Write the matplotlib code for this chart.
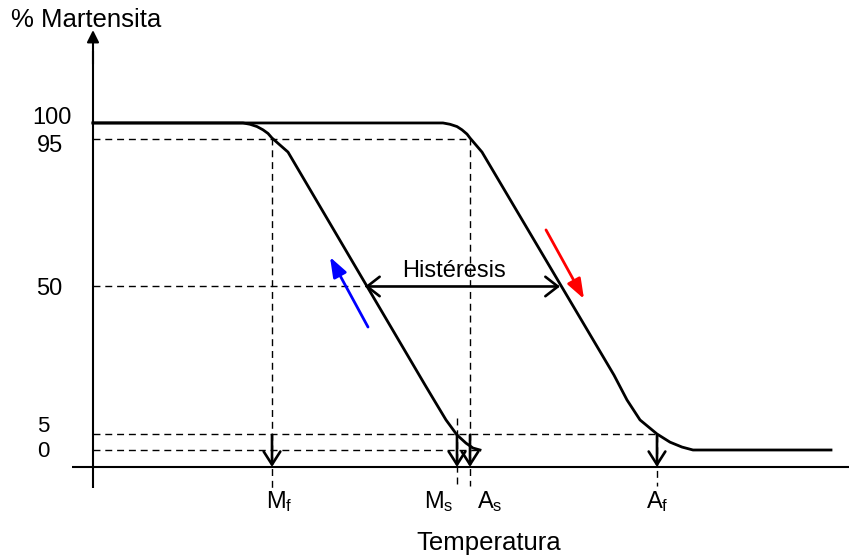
"""
Martensite fraction vs temperature: transformation hysteresis loop
with the Mf, Ms, As, Af transition temperatures marked.
"""

import matplotlib

matplotlib.use("Agg")
import matplotlib.pyplot as plt

plt.rcParams["font.family"] = ["Liberation Sans", "DejaVu Sans"]
plt.rcParams["mathtext.fontset"] = "custom"
plt.rcParams["mathtext.rm"] = "Liberation Sans"

# cooling curve (austenite -> martensite), temperature in arbitrary units
cool_T = [0, 150, 157, 164, 170, 175, 179, 195, 332, 341, 353, 364, 373, 380, 387]
cool_pct = [100, 100, 99.6, 98.9, 97.9, 96.8, 95.4, 91.1, 19.9, 15.3, 9.2, 4.6, 2.1, 0.6, 0]

# heating curve (martensite -> austenite)
heat_T = [0, 350, 357, 364, 369, 374, 377, 389, 521, 534, 547, 564, 577, 589, 600, 738]
heat_pct = [100, 100, 99.6, 98.9, 97.9, 96.6, 95.4, 91.1, 22.9, 15.3, 9.2, 4.9, 2.4, 0.9, 0, 0]

# transition temperatures
temp_names = ["M_f", "M_s", "A_s", "A_f"]
temp_vals = [179, 364, 377, 564]
temp_label_x = [186, 346, 397, 564]

# reference levels (% martensite) and where their dashed guide ends
levels = [95, 50, 5, 0]
level_ends = [377, 274, 564, 387]
tick_labels = ["100", "95", "50", "5", "0"]
tick_x = [-61, -56, -57, -56, -56]
tick_y = [101.6, 93.0, 49.2, 7.2, -0.5]
tick_fs = [17, 17, 17, 16, 16]

axis_y = -5.2
hyst_span = (274, 468)

fig = plt.figure(figsize=(8.49, 5.59), dpi=100)
ax = fig.add_axes([0, 0, 1, 1])
ax.set_xlim(-93, 756)
ax.set_ylim(-33.33, 137.6)
ax.axis("off")

fs = 17
dash = (0, (5, 3.5))

# axes with arrow heads
ax.plot([-21, 760], [axis_y, axis_y], color="black", lw=1.5, solid_capstyle="butt")
ax.annotate("", xy=(767, axis_y), xytext=(740, axis_y),
            arrowprops=dict(arrowstyle="-|>", color="black", lw=1.5,
                            mutation_scale=18, shrinkA=0, shrinkB=0))
ax.plot([0, 0], [-11.6, 122], color="black", lw=1.5, solid_capstyle="butt")
ax.annotate("", xy=(0, 128.4), xytext=(0, 118),
            arrowprops=dict(arrowstyle="-|>", color="black", lw=1.5,
                            mutation_scale=18, shrinkA=0, shrinkB=0))

# dashed guides
for lvl, end in zip(levels, level_ends):
    ax.plot([0, end], [lvl, lvl], color="black", lw=1, ls=dash)
ax.plot([temp_vals[0]] * 2, [95.4, -12.2], color="black", lw=1, ls=dash)
ax.plot([temp_vals[1]] * 2, [9.8, -11.0], color="black", lw=1, ls=dash)
ax.plot([temp_vals[2]] * 2, [95.4, -11.0], color="black", lw=1, ls=dash)
ax.plot([temp_vals[3]] * 2, [4.6, -11.0], color="black", lw=1, ls=dash)

# curves
ax.plot(heat_T, heat_pct, color="black", lw=2, solid_joinstyle="round")
ax.plot(cool_T, cool_pct, color="black", lw=2, solid_joinstyle="round")

# arrows down to the temperature axis
for t in temp_vals:
    ax.annotate("", xy=(t, axis_y), xytext=(t, 4.6),
                arrowprops=dict(arrowstyle="->,head_length=0.47,head_width=0.3",
                                color="black", lw=1.9, mutation_scale=20,
                                shrinkA=0, shrinkB=0))

for name, x in zip(temp_names, temp_label_x):
    ax.text(x, -15.8, f"$\\mathrm{{{name}}}$", fontsize=fs, ha="center", va="center")

# hysteresis width
ax.annotate("", xy=(hyst_span[0] - 2, 50), xytext=(hyst_span[1] - 1, 50),
            arrowprops=dict(arrowstyle="<->,head_length=0.45,head_width=0.35",
                            color="black", lw=1.9, mutation_scale=20,
                            shrinkA=0, shrinkB=0))
ax.text(361, 54.6, "Histéresis", fontsize=fs, ha="center", va="center")

# direction of transformation
ax.annotate("", xy=(237, 59.0), xytext=(275, 37.6),
            arrowprops=dict(arrowstyle="-|>,head_length=0.6,head_width=0.22",
                            color="#0000ff", lw=2, mutation_scale=20,
                            shrinkA=0, shrinkB=0))
ax.annotate("", xy=(491, 46.2), xytext=(453, 67.3),
            arrowprops=dict(arrowstyle="-|>,head_length=0.6,head_width=0.22",
                            color="#ff0000", lw=2, mutation_scale=20,
                            shrinkA=0, shrinkB=0))

# tick labels on the % axis
for lab, x, y, f in zip(tick_labels, tick_x, tick_y, tick_fs):
    ax.text(x, y, lab, fontsize=f, ha="left", va="center")

ax.text(-82, 131.5, "% Martensita", fontsize=18.5, ha="left", va="center")
ax.text(396, -28.5, "Temperatura", fontsize=18.5, ha="center", va="center")

fig.savefig("out.png", dpi=100)
